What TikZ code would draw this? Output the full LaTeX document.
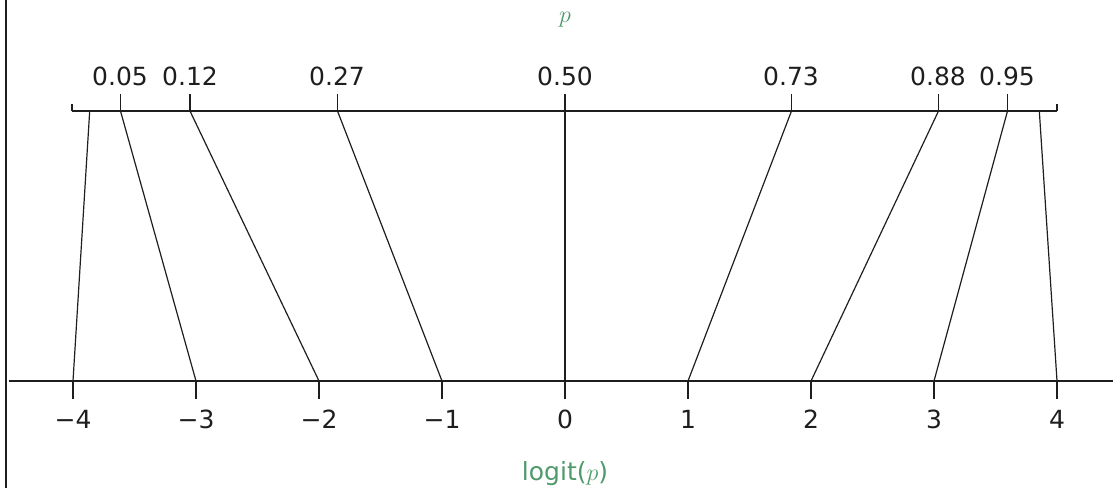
\documentclass[tikz,border=0pt]{standalone}
\usepackage{fontspec}
\setmainfont{DejaVu Sans}
\usepackage{tikz}
\definecolor{ink}{HTML}{1E1E1E}
\definecolor{labelgreen}{HTML}{4E9A6A}

\begin{document}
\begin{tikzpicture}[x=0.5pt, y=-0.5pt,
  axis/.style={line width=0.75pt, color=ink},
  link/.style={line width=0.6pt, color=ink},
  numlabel/.style={font=\fontsize{12.5}{14}\selectfont, text=ink, inner sep=1pt},
  titlelabel/.style={font=\fontsize{12.5}{14}\selectfont, text=labelgreen, inner sep=1pt}
]
\useasboundingbox (0,0) rectangle (1113,488);

% frame edge on the left
\draw[axis] (6,0) -- (6,488);

% p scale (top), 0..1
\coordinate (top0) at (72,111);
\coordinate (top1) at (1057,111);
\coordinate (tm4) at (89.7,111);
\coordinate (tm3) at (120.5,111);
\coordinate (tm2) at (190,111);
\coordinate (tm1) at (337.5,111);
\coordinate (tz) at (565,111);
\coordinate (tp1) at (791.5,111);
\coordinate (tp2) at (938.5,111);
\coordinate (tp3) at (1007.5,111);
\coordinate (tp4) at (1039.3,111);

% logit scale (bottom)
\coordinate (bleft) at (9,381);
\coordinate (bright) at (1113,381);
\coordinate (bm4) at (73,381);
\coordinate (bm3) at (196,381);
\coordinate (bm2) at (319,381);
\coordinate (bm1) at (442,381);
\coordinate (bz) at (565,381);
\coordinate (bp1) at (688,381);
\coordinate (bp2) at (811,381);
\coordinate (bp3) at (934,381);
\coordinate (bp4) at (1057,381);

\draw[axis] (top0) -- (top1);
\draw[axis] (top0) -- ++(0,-7);
\draw[axis] (top1) -- ++(0,-7);
\draw[axis] (tm3) -- ++(0,-17);
\draw[axis] (tm2) -- ++(0,-17);
\draw[axis] (tm1) -- ++(0,-17);
\draw[axis] (tz) -- ++(0,-17);
\draw[axis] (tp1) -- ++(0,-17);
\draw[axis] (tp2) -- ++(0,-17);
\draw[axis] (tp3) -- ++(0,-17);

\node[numlabel] (pm3) at (120,76) {0.05};
\node[numlabel] (pm2) at (190,76) {0.12};
\node[numlabel] (pm1) at (337,76) {0.27};
\node[numlabel] (pz) at (565,76) {0.50};
\node[numlabel] (pp1) at (791,76) {0.73};
\node[numlabel] (pp2) at (938,76) {0.88};
\node[numlabel] (pp3) at (1007,76) {0.95};
\node[titlelabel] (ptitle) at (565,20) {$p$};

\draw[axis] (bleft) -- (bright);
\draw[axis] (bm4) -- ++(0,18);
\draw[axis] (bm3) -- ++(0,18);
\draw[axis] (bm2) -- ++(0,18);
\draw[axis] (bm1) -- ++(0,18);
\draw[axis] (bz) -- ++(0,18);
\draw[axis] (bp1) -- ++(0,18);
\draw[axis] (bp2) -- ++(0,18);
\draw[axis] (bp3) -- ++(0,18);
\draw[axis] (bp4) -- ++(0,18);

\node[numlabel] (lm4) at (73,419) {−4};
\node[numlabel] (lm3) at (196,419) {−3};
\node[numlabel] (lm2) at (319,419) {−2};
\node[numlabel] (lm1) at (442,419) {−1};
\node[numlabel] (lz) at (565,419) {0};
\node[numlabel] (lp1) at (688,419) {1};
\node[numlabel] (lp2) at (811,419) {2};
\node[numlabel] (lp3) at (934,419) {3};
\node[numlabel] (lp4) at (1057,419) {4};
\node[titlelabel] (ltitle) at (565,474) {logit($p$)};

% p -> logit(p)
\draw[link] (tm4) -- (bm4);
\draw[link] (tm3) -- (bm3);
\draw[link] (tm2) -- (bm2);
\draw[link] (tm1) -- (bm1);
\draw[axis, line width=1.4pt] (tz) -- (bz);
\draw[link] (tp1) -- (bp1);
\draw[link] (tp2) -- (bp2);
\draw[link] (tp3) -- (bp3);
\draw[link] (tp4) -- (bp4);

\end{tikzpicture}
\end{document}
